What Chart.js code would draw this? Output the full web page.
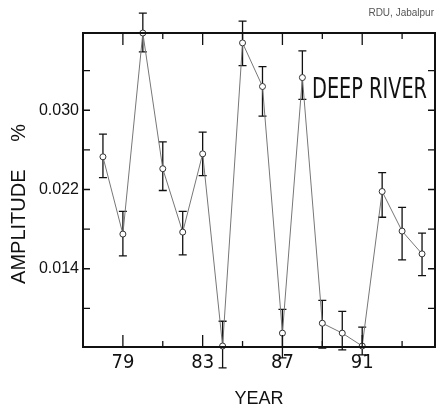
<!DOCTYPE html>
<html>
<head>
<meta charset="utf-8">
<script src="https://cdn.jsdelivr.net/npm/chart.js@4.4.1/dist/chart.umd.min.js"></script>
<style>
  html, body { margin: 0; padding: 0; background: #fff; }
  #wrap { width: 440px; height: 408px; }
</style>
</head>
<body>
<div id="wrap"><canvas id="myChart" width="440" height="408"></canvas></div>
<script>
// Data
const years = [78, 79, 80, 81, 82, 83, 84, 85, 86, 87, 88, 89, 90, 91, 92, 93, 94];
const amplitude = [0.0253, 0.0175, 0.0378, 0.0241, 0.0177, 0.0256, 0.0062, 0.0368, 0.0324,
                   0.0075, 0.0333, 0.0085, 0.0075, 0.0062, 0.0218, 0.0178, 0.0155];
const errUpper = [0.0276, 0.0198, 0.0398, 0.0268, 0.0198, 0.0278, 0.0087, 0.0390, 0.0344,
                  0.0099, 0.0360, 0.0108, 0.0097, 0.0081, 0.0237, 0.0202, 0.0176];
const errLower = [0.0232, 0.0153, 0.0359, 0.0219, 0.0154, 0.0234, 0.0040, 0.0345, 0.0294,
                  0.0050, 0.0311, 0.0060, 0.0058, 0.0053, 0.0192, 0.0149, 0.0133];

const yTicks = [0.010, 0.014, 0.018, 0.022, 0.026, 0.030, 0.034];
const yLabels = ['0.014', '0.022', '0.030'];
const xTicks = [79, 81, 83, 85, 87, 89, 91, 93];
const xLabels = ['79', '83', '87', '91'];

const ctx = document.getElementById('myChart').getContext('2d');

// Plugin: error bar, bingkai, tanda tick ke dalam, dan teks
const framePlugin = {
  id: 'frame',
  beforeDatasetsDraw(chart) {
    const c = chart.ctx;
    const xs = chart.scales.x, ys = chart.scales.y;
    c.save();
    c.strokeStyle = '#111';
    c.lineWidth = 1.3;
    years.forEach((yr, i) => {
      const px = xs.getPixelForValue(yr);
      const top = ys.getPixelForValue(errUpper[i]);
      const bot = ys.getPixelForValue(errLower[i]);
      c.beginPath();
      c.moveTo(px, top); c.lineTo(px, bot);
      c.moveTo(px - 4, top); c.lineTo(px + 4, top);
      c.moveTo(px - 4, bot); c.lineTo(px + 4, bot);
      c.stroke();
    });
    c.restore();
  },
  afterDraw(chart) {
    const c = chart.ctx;
    const a = chart.chartArea;
    const xs = chart.scales.x, ys = chart.scales.y;
    c.save();
    c.strokeStyle = '#111';
    c.lineWidth = 2;
    c.strokeRect(a.left, a.top, a.right - a.left, a.bottom - a.top);

    c.lineWidth = 1.3;
    c.beginPath();
    yTicks.forEach(v => {
      const py = ys.getPixelForValue(v);
      c.moveTo(a.left, py); c.lineTo(a.left + 7, py);
      c.moveTo(a.right, py); c.lineTo(a.right - 7, py);
    });
    xTicks.forEach(v => {
      const px = xs.getPixelForValue(v);
      const len = xLabels.includes(String(v)) ? 12 : 6;
      c.moveTo(px, a.bottom); c.lineTo(px, a.bottom - len);
      c.moveTo(px, a.top); c.lineTo(px, a.top + len);
    });
    c.stroke();

    c.fillStyle = '#111';
    c.textAlign = 'left';
    c.textBaseline = 'middle';
    c.font = '28px "Liberation Sans Narrow", "DejaVu Sans Condensed", sans-serif';
    c.fillText('DEEP RIVER', 312, 91, 115);

    c.fillStyle = '#555';
    c.textAlign = 'right';
    c.font = '10px "Liberation Sans", sans-serif';
    c.fillText('RDU, Jabalpur', 434, 13);
    c.restore();
  }
};

const chart = new Chart(ctx, {
  type: 'line',
  data: {
    datasets: [{
      data: years.map((yr, i) => ({ x: yr, y: amplitude[i] })),
      borderColor: '#777',
      borderWidth: 1,
      pointRadius: 3,
      pointBackgroundColor: '#fff',
      pointBorderColor: '#333',
      pointBorderWidth: 1,
      tension: 0,
      clip: false
    }]
  },
  options: {
    responsive: false,
    animation: false,
    layout: { padding: { top: 33, right: 5, bottom: 0, left: 0 } },
    plugins: { legend: { display: false }, tooltip: { enabled: false } },
    scales: {
      x: {
        type: 'linear',
        min: 77,
        max: 94.65,
        afterFit: s => { s.height = 61; },
        afterBuildTicks: s => { s.ticks = xTicks.map(v => ({ value: v })); },
        grid: { display: false, drawTicks: false },
        border: { display: false },
        ticks: {
          padding: 4,
          color: '#111',
          font: { size: 20, family: '"Liberation Sans Narrow", "DejaVu Sans Condensed", sans-serif' },
          callback: v => xLabels.includes(String(v)) ? String(v) : ''
        },
        title: {
          display: true,
          text: 'YEAR',
          color: '#111',
          padding: { top: 0, bottom: 0 },
          font: { size: 18, family: '"Liberation Sans", sans-serif', lineHeight: 1 }
        }
      },
      y: {
        min: 0.0061,
        max: 0.0378,
        afterFit: s => { s.width = 83; },
        afterBuildTicks: s => { s.ticks = yTicks.map(v => ({ value: v })); },
        grid: { display: false, drawTicks: false },
        border: { display: false },
        ticks: {
          padding: 4,
          color: '#111',
          font: { size: 16, family: '"Liberation Sans", sans-serif' },
          callback: v => {
            const t = v.toFixed(3);
            return yLabels.includes(t) ? t : '';
          }
        },
        title: {
          display: true,
          text: 'AMPLITUDE     %     ',
          color: '#111',
          padding: { top: 7, bottom: 0 },
          font: { size: 20, family: '"Liberation Sans", sans-serif', lineHeight: 1.2 }
        }
      }
    }
  },
  plugins: [framePlugin]
});
</script>
</body>
</html>
